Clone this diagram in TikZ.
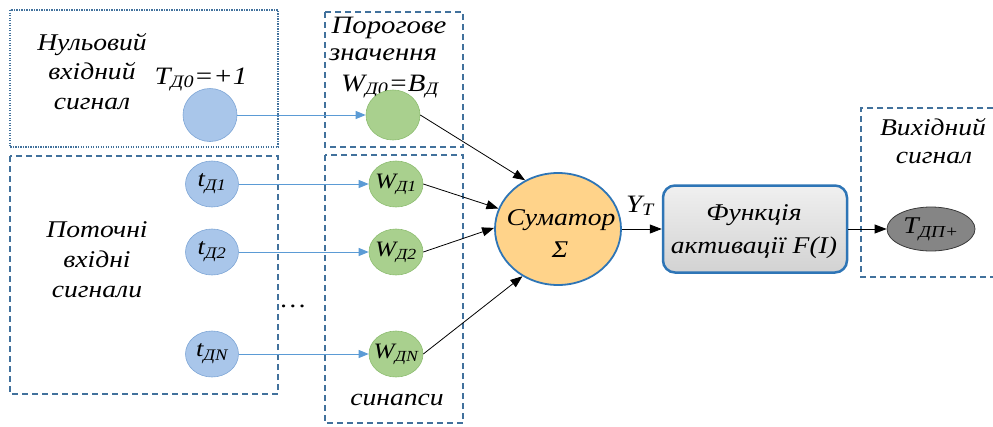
\documentclass[tikz,border=0pt]{standalone}
\usepackage{fontspec}
\setmainfont{Liberation Serif}[FakeStretch=1.15]
\usetikzlibrary{arrows.meta,shapes.geometric}
\newcommand{\sbx}[1]{\textsubscript{#1}}
\definecolor{frameline}{HTML}{41719C}
\definecolor{bluefill}{HTML}{A9C6EA}
\definecolor{bluedraw}{HTML}{7EA6D6}
\definecolor{greenfill}{HTML}{A9D08E}
\definecolor{greendraw}{HTML}{8DBD70}
\definecolor{arrowblue}{HTML}{5B9BD5}
\definecolor{sumfill}{HTML}{FFD38A}
\definecolor{strongblue}{HTML}{2E75B6}
\definecolor{outfill}{HTML}{858585}
\definecolor{outdraw}{HTML}{3A3A3A}
\begin{document}
\begin{tikzpicture}[x=1pt,y=-1pt,
  frame/.style={draw=frameline, line width=1.1pt, dash pattern=on 6pt off 4pt},
  dotframe/.style={draw=frameline, line width=1.3pt, dash pattern=on 1.2pt off 1.3pt},
  bnode/.style={ellipse, draw=bluedraw, line width=0.6pt, fill=bluefill, minimum width=53pt, minimum height=46pt, inner sep=0pt},
  gnode/.style={ellipse, draw=greendraw, line width=0.6pt, fill=greenfill, minimum width=54pt, minimum height=46pt, inner sep=0pt},
  txt/.style={font=\fontsize{24}{28}\selectfont\itshape, anchor=base, inner sep=0pt},
  thtxt/.style={font=\fontsize{25}{30}\selectfont\itshape, anchor=base, inner sep=0pt},
  symb/.style={font=\fontsize{25}{28}\selectfont\itshape, inner sep=0pt},
  clab/.style={font=\fontsize{22}{26}\selectfont\itshape},
  tlab/.style={font=\fontsize{23}{26}\selectfont\itshape},
  bluearrow/.style={draw=arrowblue, line width=0.9pt, -{Triangle[length=10pt,width=8pt]}},
  blackarrow/.style={draw=black, line width=0.8pt, -{Triangle[length=12pt,width=9pt]}}]
\useasboundingbox (0,0) rectangle (993,426);

% frames
\draw[dotframe] (10,10) rectangle (278,147);
\draw[frame] (10,156) rectangle (278,394);
\draw[frame] (325,12) rectangle (463,147);
\draw[frame] (325,155) rectangle (463,423);
\draw[frame] (993,108) -- (861,108) -- (861,277) -- (993,277);

% left texts
\node[txt] (n1) at (92,50) {Нульовий};
\node[txt] (n2) at (92,79) {вхідний};
\node[txt] (n3) at (92,109) {сигнал};
\node[txt] (p1) at (97,237) {Поточні};
\node[txt] (p2) at (97,267) {вхідні};
\node[txt] (p3) at (97,297) {сигнали};
\node[txt] (dots) at (293,307) {\upshape\dots};

% threshold texts
\node[thtxt] (th1) at (389,33) {Порогове};
\node[thtxt] (th2) at (383,60) {значення};
\node[symb, anchor=base, fill=white, inner xsep=0pt, inner ysep=1pt] (w0lab) at (390,91) {W\sbx{Д0}=B\sbx{Д}};
\node[symb, anchor=base] (t0lab) at (201,84) {T\sbx{Д0}=+1};
\node[txt] (syn) at (397,405) {синапси};

% input nodes
\node[bnode, minimum width=54pt, minimum height=53pt] (t0) at (210,115) {};
\node[bnode, label={[tlab]center:t\sbx{Д1}}] (t1) at (212,184) {};
\node[bnode, label={[tlab]center:t\sbx{Д2}}] (t2) at (212,252) {};
\node[bnode, label={[tlab]center:t\sbx{ДN}}] (tn) at (212,354) {};

% weights
\node[gnode, minimum height=50pt] (w0) at (393,115) {};
\node[gnode, label={[clab]center:W\sbx{Д1}}] (w1) at (396,184) {};
\node[gnode, label={[clab]center:W\sbx{Д2}}] (w2) at (396,252) {};
\node[gnode, label={[clab]center:W\sbx{ДN}}] (wn) at (396,354) {};

% summator
\node[ellipse, draw=strongblue, line width=1.8pt, fill=sumfill, minimum width=126pt, minimum height=112pt, inner sep=0pt] (sum) at (558,229) {};
\node[txt] (sumt) at (561,225) {Суматор};
\node[txt] (sigma) at (560,257) {Σ};

% activation
\node[rectangle, rounded corners=12pt, draw=strongblue, line width=2.5pt, top color=gray!12, bottom color=gray!35, minimum width=184pt, minimum height=87pt] (func) at (755,229) {};
\node[txt] (f1) at (754,220) {Функція};
\node[txt] (f2) at (754,253) {активації F(I)};

% output
\node[ellipse, draw=outdraw, line width=0.8pt, fill=outfill, minimum width=88pt, minimum height=44pt, inner sep=0pt, label={[font=\fontsize{24}{28}\selectfont\itshape]center:T\sbx{ДП+}}] (out) at (931,229) {};
\node[txt] (o1) at (933,135) {Вихідний};
\node[txt] (o2) at (934,163) {сигнал};

\node[symb, anchor=base] (yt) at (640,212) {Y\sbx{T}};

% connectors
\draw[bluearrow] (t0) -- (w0);
\draw[bluearrow] (t1) -- (w1);
\draw[bluearrow] (t2) -- (w2);
\draw[bluearrow] (tn) -- (wn);
\draw[blackarrow] (w0.east) -- (sum.124);
\draw[blackarrow] (w1.east) -- (sum.161);
\draw[blackarrow] (w2.east) -- (sum.179);
\draw[blackarrow] (wn.east) -- (sum.233);
\draw[blackarrow] (sum.east) -- (sum.east -| func.west);
\draw[blackarrow] (func.east) -- (func.east -| out.west);
\end{tikzpicture}
\end{document}
